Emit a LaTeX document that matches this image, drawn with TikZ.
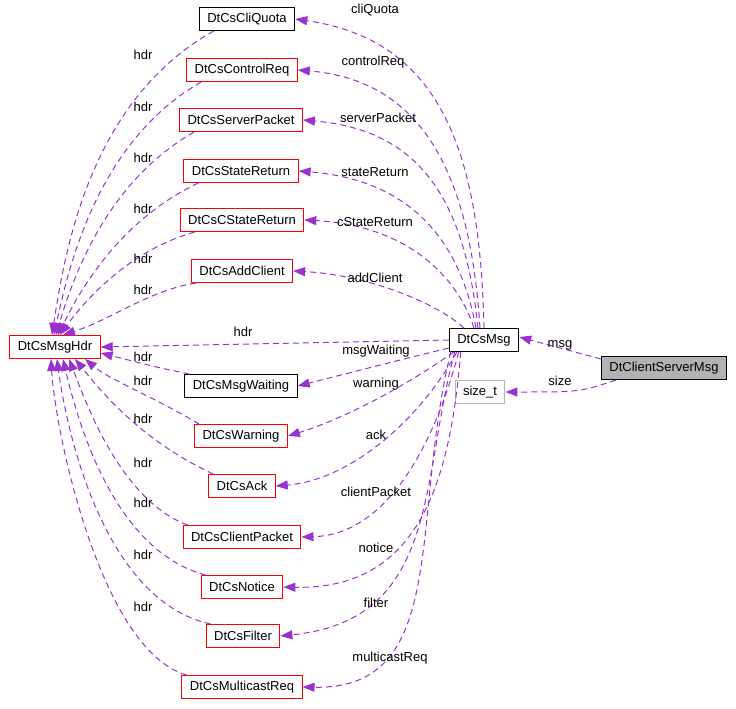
\documentclass[tikz,border=0pt]{standalone}
\usepackage{fontspec}
\setmainfont{Liberation Sans}
\usetikzlibrary{arrows.meta}
\definecolor{edge}{HTML}{9A32CD}
\begin{document}
\begin{tikzpicture}[x=1pt,y=-1pt,font=\fontsize{13}{16}\selectfont,
 cls/.style={draw=red,line width=1pt,fill=white,minimum height=23pt,inner xsep=8pt,inner ysep=2pt},
 blk/.style={draw=black,line width=1pt,fill=white,minimum height=23pt,inner xsep=8pt,inner ysep=2pt},
 e/.style={draw=edge,dashed,dash pattern=on 6pt off 4pt,line width=1pt,-{Triangle[length=12pt,width=9pt]}},
 lb/.style={fill=none,inner sep=1pt}]
\useasboundingbox (0,0) rectangle (736,709);
\node[blk] (cq) at (247,19) {DtCsCliQuota};
\node[cls] (cr) at (242,70) {DtCsControlReq};
\node[cls] (sp) at (241,120) {DtCsServerPacket};
\node[cls] (sr) at (241,171) {DtCsStateReturn};
\node[cls] (csr) at (242,220) {DtCsCStateReturn};
\node[cls] (ac) at (242,271) {DtCsAddClient};
\node[cls] (hdr) at (55,347) {DtCsMsgHdr};
\node[blk] (msg) at (484,340) {DtCsMsg};
\node[blk,fill=gray!60] (csm) at (664,368) {DtClientServerMsg};
\node[draw=gray!60,line width=1pt,minimum height=23pt,inner xsep=8pt,inner ysep=2pt] (st) at (480,392) {size\_t};
\node[blk] (mw) at (241,386) {DtCsMsgWaiting};
\node[cls] (wa) at (241,436) {DtCsWarning};
\node[cls] (ak) at (242,486) {DtCsAck};
\node[cls] (cp) at (242,537) {DtCsClientPacket};
\node[cls] (no) at (242,587) {DtCsNotice};
\node[cls] (fi) at (243,636) {DtCsFilter};
\node[cls] (mc) at (242,687) {DtCsMulticastReq};
% msg / size
\draw[e] (csm.north west) ++(0,3) coordinate (c1) (c1) -- ([yshift=3pt]msg.east);
\draw[e] (csm.south west) ++(15,0) coordinate (c2) (c2) .. controls (580,392) .. (st.east);
\node[lb] at (560,345) {msg};
\node[lb] at (560,381) {size};
% members above
\draw[e] (msg.north) .. controls (480,150) and (440,40) .. (cq.east);
\draw[e] (msg.north) ++(-4,0) coordinate (m2) (m2) .. controls (470,170) and (420,80) .. (cr.east);
\draw[e] (msg.north) ++(-6,0) coordinate (m3) (m3) .. controls (465,200) and (420,130) .. (sp.east);
\draw[e] (msg.north) ++(-8,0) coordinate (m4) (m4) .. controls (460,240) and (410,180) .. (sr.east);
\draw[e] (msg.north) ++(-10,0) coordinate (m5) (m5) .. controls (455,270) and (400,225) .. (csr.east);
\draw[e] (msg.north west) ++(15,0) coordinate (m6) (m6) .. controls (440,305) and (370,275) .. (ac.east);
\node[lb] at (375,10) {cliQuota};
\node[lb] at (373,62) {controlReq};
\node[lb] at (378,118) {serverPacket};
\node[lb] at (375,172) {stateReturn};
\node[lb] at (375,222) {cStateReturn};
\node[lb] at (375,278) {addClient};
% members below
\draw[e] (msg.west) ++(0,8) coordinate (b1) (b1) .. controls (400,360) .. (mw.east);
\draw[e] (msg.south west) ++(5,0) coordinate (b2) (b2) .. controls (400,390) and (340,420) .. (wa.east);
\draw[e] (msg.south west) ++(8,0) coordinate (b3) (b3) .. controls (420,420) and (350,480) .. (ak.east);
\draw[e] (msg.south west) ++(10,0) coordinate (b4) (b4) .. controls (430,460) and (380,535) .. (cp.east);
\draw[e] (msg.south west) ++(12,0) coordinate (b5) (b5) .. controls (450,480) and (420,590) .. (no.east);
\draw[e] (msg.south west) ++(6,0) coordinate (b6) (b6) .. controls (420,480) and (440,620) .. (fi.east);
\draw[e] (msg.south west) ++(2,0) coordinate (b7) (b7) .. controls (410,520) and (450,690) .. (mc.east);
\node[lb] at (376,351) {msgWaiting};
\node[lb] at (376,384) {warning};
\node[lb] at (376,435) {ack};
\node[lb] at (376,492) {clientPacket};
\node[lb] at (376,548) {notice};
\node[lb] at (376,603) {filter};
\node[lb] at (390,658) {multicastReq};
% hdr edges
\draw[e] (msg.west) -- (hdr.east);
\node[lb] at (243,332) {hdr};
\draw[e] (cq.south west) ++(15,0) coordinate (h1) (h1) .. controls (90,100) and (65,250) .. ([xshift=-3pt]hdr.north);
\draw[e] (cr.south west) ++(15,0) coordinate (h2) (h2) .. controls (100,140) and (70,260) .. ([xshift=-1pt]hdr.north);
\draw[e] (sp.south west) ++(15,0) coordinate (h3) (h3) .. controls (110,180) and (75,270) .. ([xshift=1pt]hdr.north);
\draw[e] (sr.south west) ++(15,0) coordinate (h4) (h4) .. controls (120,220) and (80,290) .. ([xshift=3pt]hdr.north);
\draw[e] (csr.south west) ++(15,0) coordinate (h5) (h5) .. controls (130,250) and (85,300) .. ([xshift=5pt]hdr.north);
\draw[e] (ac.south west) ++(5,0) coordinate (h6) (h6) .. controls (150,290) and (110,320) .. ([xshift=8pt]hdr.north);
\node[lb] at (143,55) {hdr};
\node[lb] at (143,107) {hdr};
\node[lb] at (143,158) {hdr};
\node[lb] at (143,209) {hdr};
\node[lb] at (143,259) {hdr};
\node[lb] at (143,290) {hdr};
\draw[e] (mw.north west) ++(5,0) coordinate (h7) (h7) .. controls (160,368) .. ([yshift=-6pt]hdr.east);
\draw[e] (wa.north west) ++(5,0) coordinate (h8) (h8) .. controls (150,395) and (110,380) .. ([xshift=30pt]hdr.south);
\draw[e] (ak.north west) ++(5,0) coordinate (h9) (h9) .. controls (140,440) and (100,390) .. ([xshift=20pt]hdr.south);
\draw[e] (cp.north west) ++(5,0) coordinate (h10) (h10) .. controls (120,500) and (85,400) .. ([xshift=14pt]hdr.south);
\draw[e] (no.north west) ++(5,0) coordinate (h11) (h11) .. controls (110,550) and (75,410) .. ([xshift=8pt]hdr.south);
\draw[e] (fi.north west) ++(5,0) coordinate (h12) (h12) .. controls (100,600) and (65,420) .. ([xshift=2pt]hdr.south);
\draw[e] (mc.north west) ++(5,0) coordinate (h13) (h13) .. controls (100,650) and (55,430) .. ([xshift=-4pt]hdr.south);
\node[lb] at (143,357) {hdr};
\node[lb] at (143,381) {hdr};
\node[lb] at (143,419) {hdr};
\node[lb] at (143,463) {hdr};
\node[lb] at (143,503) {hdr};
\node[lb] at (143,555) {hdr};
\node[lb] at (143,607) {hdr};
\end{tikzpicture}
\end{document}
